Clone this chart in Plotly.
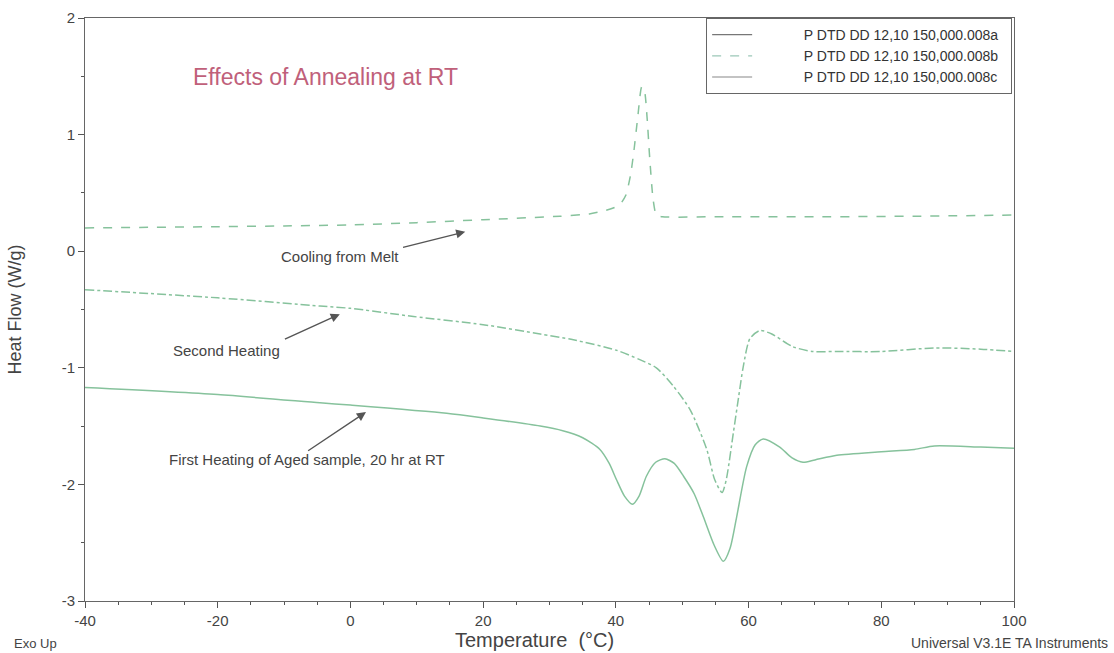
import plotly.graph_objects as go

# Cooling from Melt (008b, dashed)
t_cool = [-40, -30, -20, -10, 0, 10, 20, 31.6, 36, 38.5, 39.6, 40.6, 41.5, 42.2, 42.7, 43.3, 43.9, 44.3, 44.7, 45.1, 45.6, 46.1, 47, 55, 70, 85, 100]
v_cool = [0.20, 0.205, 0.21, 0.217, 0.225, 0.245, 0.27, 0.30, 0.32, 0.35, 0.37, 0.40, 0.48, 0.65, 0.85, 1.15, 1.41, 1.38, 1.15, 0.80, 0.45, 0.31, 0.295, 0.295, 0.295, 0.30, 0.31]

# Second Heating (008c, dash-dot)
t_sec = [-40, -20, -4.6, 0, 9.5, 20, 28.6, 33.6, 40.1, 43.6, 46.1, 48.7, 51.2, 53.7, 54.9, 56.0, 56.6, 57.7, 58.5, 59.2, 60.2, 61.7, 63.5, 66.7, 69.7, 73.3, 80, 88, 95, 100]
v_sec = [-0.33, -0.40, -0.47, -0.49, -0.56, -0.63, -0.71, -0.76, -0.85, -0.93, -1.00, -1.16, -1.36, -1.70, -1.96, -2.07, -1.97, -1.56, -1.25, -0.99, -0.75, -0.68, -0.71, -0.82, -0.86, -0.86, -0.86, -0.83, -0.84, -0.86]

# First Heating of Aged sample (008a, solid)
t_first = [-40, -20, -4.6, 0, 14.5, 20, 28.6, 32, 35, 37.6, 39, 40.1, 41.3, 42.5, 43.5, 44.6, 46, 47.4, 48.8, 50.2, 51.8, 53.2, 54.8, 56.2, 57.2, 58.2, 59.7, 61, 62.2, 64.7, 66.5, 68.2, 70, 73.3, 80, 85, 88, 95, 100]
v_first = [-1.17, -1.23, -1.30, -1.32, -1.39, -1.43, -1.50, -1.54, -1.60, -1.70, -1.82, -1.96, -2.10, -2.17, -2.10, -1.93, -1.81, -1.78, -1.82, -1.93, -2.08, -2.28, -2.52, -2.66, -2.55, -2.28, -1.85, -1.66, -1.61, -1.68, -1.77, -1.81, -1.79, -1.75, -1.72, -1.70, -1.67, -1.68, -1.69]

legend_names = ["P DTD DD 12,10 150,000.008a", "P DTD DD 12,10 150,000.008b", "P DTD DD 12,10 150,000.008c"]

x_ticks = [-40, -20, 0, 20, 40, 60, 80, 100]
x_ticktext = ["-40", "-20", "0", "20", "40", "60", "80", "100"]
y_ticks = [-3, -2, -1, 0, 1, 2]
y_ticktext = ["-3", "-2", "-1", "0", "1", "2"]

line_col = "#86c29c"
text_col = "#444444"
font_fam = "Liberation Sans, Arial, sans-serif"

W, H = 1114, 653
L, R, T, B = 85, 100, 18, 52
pw, ph = W - L - R, H - T - B


def px_x(p):
    return (p - L) / pw


def px_y(p):
    return (H - B - p) / ph


fig = go.Figure()
fig.add_trace(go.Scatter(x=t_first, y=v_first, mode="lines", showlegend=False,
                         line=dict(color=line_col, width=1.5, shape="spline", smoothing=0.7)))
fig.add_trace(go.Scatter(x=t_cool, y=v_cool, mode="lines", showlegend=False,
                         line=dict(color=line_col, width=1.5, dash="dash", shape="spline", smoothing=0.6)))
fig.add_trace(go.Scatter(x=t_sec, y=v_sec, mode="lines", showlegend=False,
                         line=dict(color=line_col, width=1.5, dash="dashdot", shape="spline", smoothing=0.7)))

# legend entries (samples drawn in the reference's greyish legend styles)
leg_styles = [dict(color="#777777", dash="solid"), dict(color="#9cc8b8", dash="dash"), dict(color="#888888", dash="solid")]
pad = "\u00a0" * 12
for name, st in zip(legend_names, leg_styles):
    fig.add_trace(go.Scatter(x=[None], y=[None], mode="lines", name=pad + name + "\u00a0\u00a0",
                             line=dict(color=st["color"], width=1.2, dash=st["dash"])))

annots = [
    dict(text="Cooling from Melt", x=-1.6, y=-0.047, tail=(7.7, 0.03), head=(17.3, 0.167)),
    dict(text="Second Heating", x=-18.65, y=-0.853, tail=(-10.1, -0.76), head=(-1.6, -0.54)),
    dict(text="First Heating of Aged sample, 20 hr at RT", x=-6.6, y=-1.79, tail=(-6.6, -1.72), head=(2.35, -1.38)),
]
for a in annots:
    fig.add_annotation(x=a["x"], y=a["y"], xref="x", yref="y", text=a["text"], showarrow=False,
                       font=dict(size=15, color=text_col, family=font_fam))
    fig.add_annotation(x=a["head"][0], y=a["head"][1], ax=a["tail"][0], ay=a["tail"][1],
                       xref="x", yref="y", axref="x", ayref="y", text="", showarrow=True,
                       arrowhead=2, arrowsize=1.3, arrowwidth=1.4, arrowcolor="#555555")

fig.add_annotation(x=-3.8, y=1.494, xref="x", yref="y", text="Effects of Annealing at RT", showarrow=False,
                   font=dict(size=23, color="#c0607a", family=font_fam))

fig.add_annotation(x=px_x(12), y=px_y(643), xref="paper", yref="paper",
                   xanchor="left", yanchor="middle", text="Exo Up",
                   showarrow=False, font=dict(size=13, color=text_col, family=font_fam))
fig.add_annotation(x=px_x(1110), y=px_y(643), xref="paper", yref="paper",
                   xanchor="right", yanchor="middle",
                   text="Universal V3.1E TA Instruments", showarrow=False,
                   font=dict(size=14, color=text_col, family=font_fam))
fig.add_annotation(x=px_x(534), y=px_y(640), xref="paper", yref="paper",
                   xanchor="center", yanchor="middle",
                   text="Temperature  (°C)", showarrow=False,
                   font=dict(size=20, color=text_col, family=font_fam))

fig.update_layout(
    width=W, height=H,
    margin=dict(l=L, r=R, t=T, b=B, autoexpand=False),
    paper_bgcolor="white", plot_bgcolor="white",
    font=dict(family=font_fam, color=text_col),
    legend=dict(x=0.998, y=1.0, xanchor="right", yanchor="top", bgcolor="white",
                bordercolor="#666666", borderwidth=1, font=dict(size=14, color="#333333"),
                tracegroupgap=0, itemwidth=40),
    showlegend=True,
)
fig.update_xaxes(range=[-40, 100], tickvals=x_ticks, ticktext=x_ticktext, ticks="outside", ticklen=6, tickcolor="#555",
                 minor=dict(dtick=5, ticks="outside", ticklen=3, tickcolor="#555"),
                 showline=True, linecolor="#666", mirror=True, showgrid=False, zeroline=False,
                 automargin=False, tickfont=dict(size=15, color=text_col))
fig.update_yaxes(range=[-3, 2], tickvals=y_ticks, ticktext=y_ticktext, ticks="outside", ticklen=6, tickcolor="#555",
                 minor=dict(dtick=0.5, ticks="outside", ticklen=3, tickcolor="#555"),
                 showline=True, linecolor="#666", mirror=True, showgrid=False, zeroline=False,
                 automargin=False, tickfont=dict(size=15, color=text_col),
                 title=dict(text="Heat Flow (W/g)", font=dict(size=18, color=text_col), standoff=35))

fig.write_html("out.html", config={"displayModeBar": False},
               post_script="document.body.style.margin='0';document.body.style.overflow='hidden';")
